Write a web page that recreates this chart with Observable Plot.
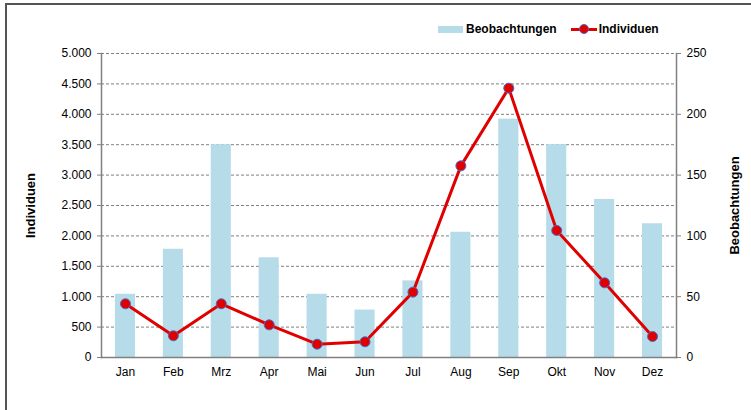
<!DOCTYPE html>
<html><head><meta charset="utf-8">
<script src="https://cdn.jsdelivr.net/npm/d3@7"></script>
<script src="https://cdn.jsdelivr.net/npm/@observablehq/plot@0.6"></script>
<style>
body{margin:0;background:#fff;font-family:"Liberation Sans",Arial,sans-serif;}
#wrap{position:relative;width:751px;height:410px;overflow:hidden;}
#border{position:absolute;left:5px;top:3px;width:760px;height:420px;border-left:2px solid #555;border-top:2px solid #555;}
#legend{position:absolute;top:22px;left:438px;font-size:12px;font-weight:bold;display:flex;align-items:center;white-space:nowrap;}
.sw{display:inline-block;width:25px;height:7px;background:#b6dcea;margin-right:3px;}
.ln{position:relative;display:inline-block;width:26px;height:3px;background:#e00000;margin-left:14px;margin-right:2px;}
.ln i{position:absolute;left:8px;border-radius:50%;background:#e00000;border:1px solid #4a6cc8;box-sizing:border-box;width:10px;height:10px;top:-3.5px;}
</style></head>
<body>
<div id="wrap">
<div id="border"></div>
<div id="legend"><span class="sw"></span>Beobachtungen<span class="ln"><i></i></span>Individuen</div>
</div>
<script>
const months = ["Jan","Feb","Mrz","Apr","Mai","Jun","Jul","Aug","Sep","Okt","Nov","Dez"];
const beobachtungen = [52, 89, 175, 82, 52, 39, 63, 103, 196, 175, 130, 110];
const individuen = [883, 357, 883, 537, 219, 258, 1075, 3152, 4430, 2089, 1228, 345];
const leftTicks = [0,500,1000,1500,2000,2500,3000,3500,4000,4500,5000];
const rightTicks = [0,50,100,150,200,250];
const ratio = 20;

const de = d3.formatLocale({decimal:",", thousands:".", grouping:[3], currency:["","€"]});
const fmt = de.format(",");

const data = months.map((m,i)=>({m, b: beobachtungen[i], ind: individuen[i]}));

const chart = Plot.plot({
  width: 751, height: 410,
  marginLeft: 101, marginRight: 75, marginTop: 53, marginBottom: 53,
  style: {fontFamily: '"Liberation Sans", Arial, sans-serif', fontSize: "12px", background: "transparent", color: "#000"},
  x: {domain: months, paddingInner: 0.58, paddingOuter: 0.29, round: false},
  y: {domain: [0, 5000]},
  marks: [
    Plot.gridY(leftTicks, {stroke: "#808080", strokeOpacity: 1, strokeDasharray: "3,2", strokeWidth: 1}),
    Plot.barY(data, {x: "m", y: d => d.b * ratio, fill: "#b6dcea"}),
    Plot.frame({anchor: "left", stroke: "#808080", strokeWidth: 1.5}),
    Plot.frame({anchor: "right", stroke: "#808080", strokeWidth: 1.5}),
    Plot.frame({anchor: "bottom", stroke: "#808080", strokeWidth: 1.5}),
    Plot.line(data, {x: "m", y: "ind", stroke: "#e00000", strokeWidth: 3}),
    Plot.dot(data, {x: "m", y: "ind", r: 5, fill: "#e00000", stroke: "#4a6cc8", strokeWidth: 1}),
    Plot.axisX({tickSize: 0, tickPadding: 10, label: null, fontSize: 12}),
    Plot.axisY(leftTicks, {anchor: "left", tickFormat: fmt, tickSize: 4, tickPadding: 6, stroke: "#808080",
      label: "Individuen", labelAnchor: "center", labelOffset: 76, fontSize: 12}),
    Plot.axisY(rightTicks.map(v => v * ratio), {anchor: "right", tickFormat: d => String(d / ratio), tickSize: 4, tickPadding: 6, stroke: "#808080",
      label: "Beobachtungen", labelAnchor: "center", labelOffset: 62, fontSize: 12})
  ]
});
document.getElementById("wrap").appendChild(chart);
chart.style.position = "absolute"; chart.style.left = "0"; chart.style.top = "0";
chart.querySelectorAll('[aria-label="y-axis label"]').forEach(g => {
  g.setAttribute("font-weight", "bold"); g.setAttribute("font-size", "13");
  g.querySelectorAll("text, tspan").forEach(t => {
    if (t.childNodes.length === 1 && t.firstChild.nodeType === 3) t.textContent = t.textContent.replace(/[↑↓→←]/g, "").trim();
  });
});
</script>
</body></html>
